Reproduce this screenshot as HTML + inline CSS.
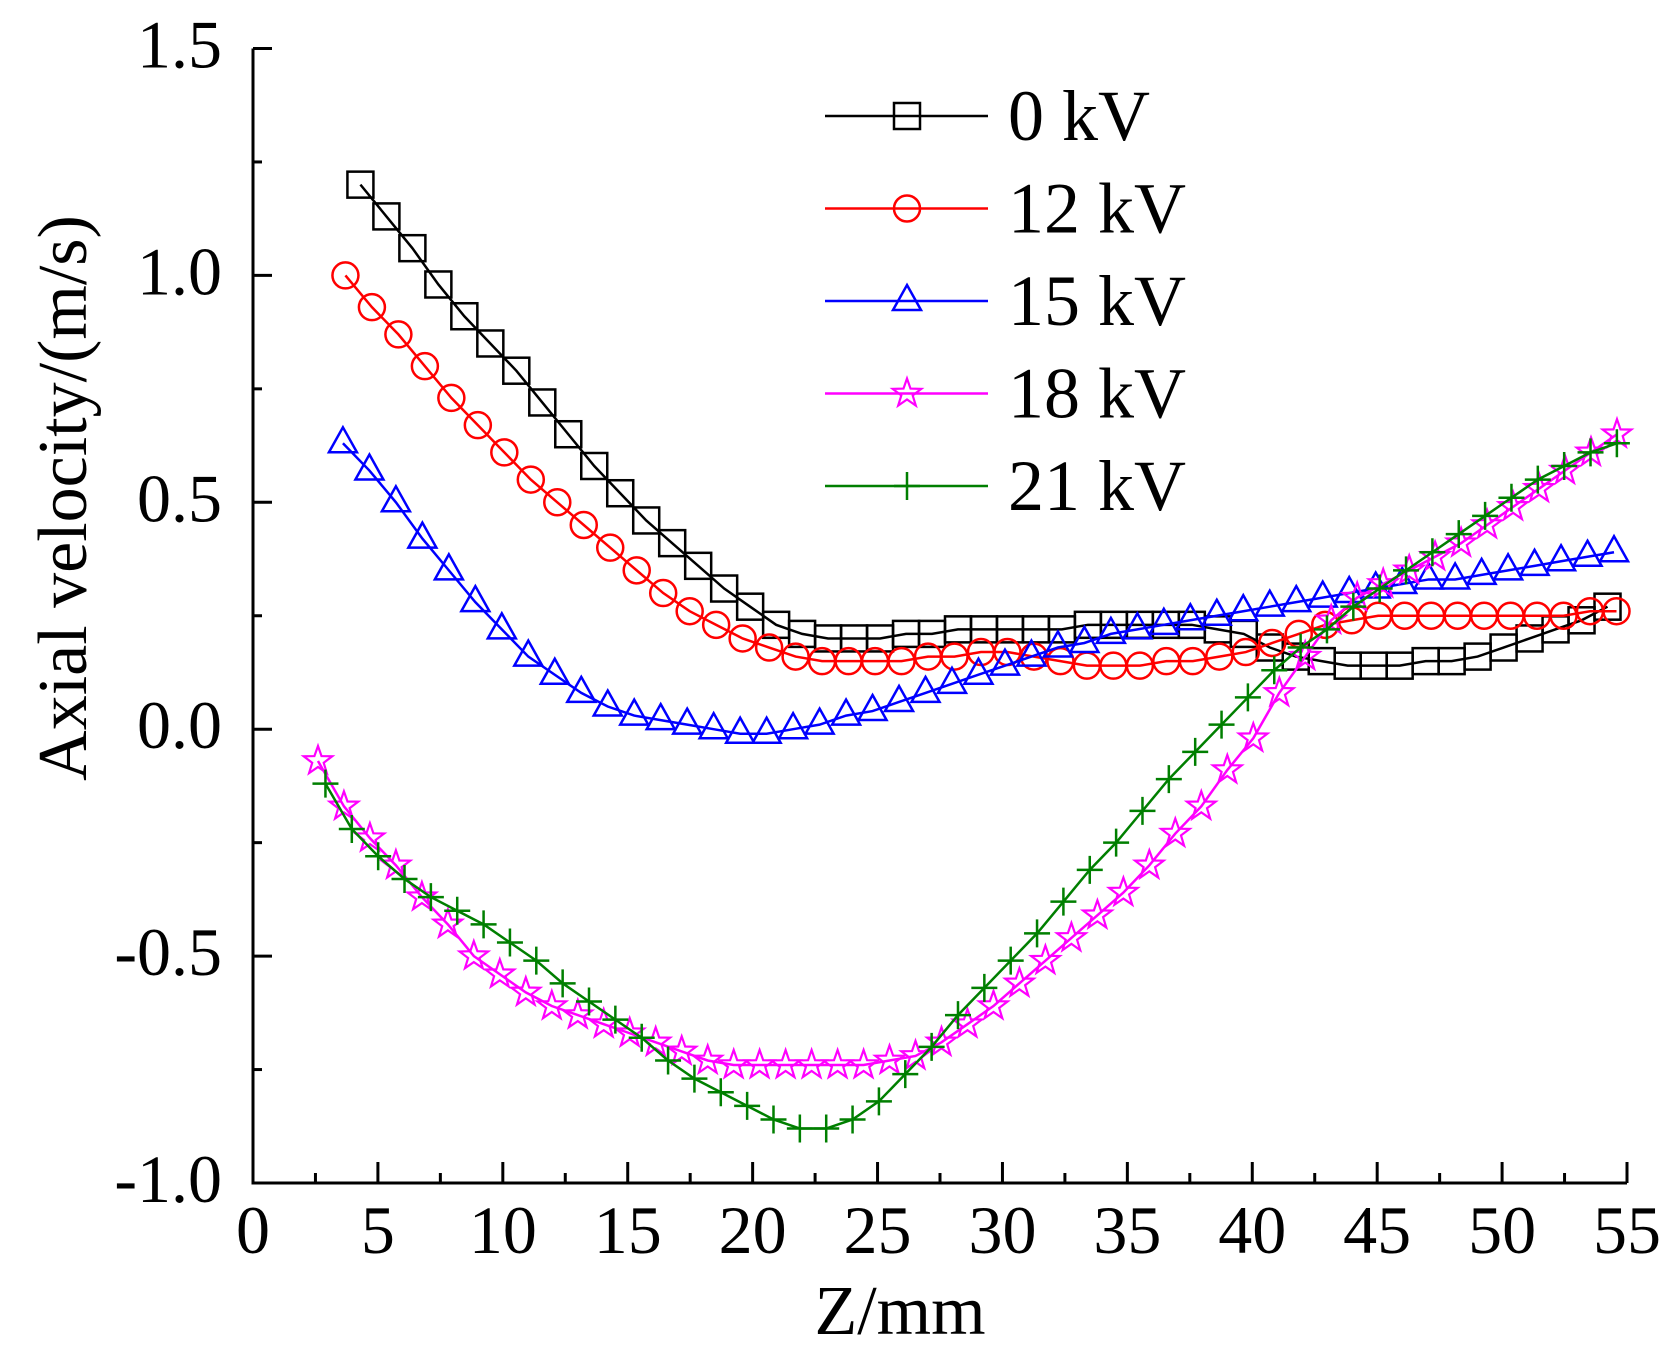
<!DOCTYPE html>
<html><head><meta charset="utf-8"><style>
body{margin:0;background:#fff}
svg{display:block}
text{font-family:"Liberation Serif",serif;fill:#000}
</style></head><body>
<svg id="chart" width="1672" height="1348" viewBox="0 0 1672 1348"></svg>
<script>
const xTicks=[0,5,10,15,20,25,30,35,40,45,50,55];
const yTicks=[1.5,1.0,0.5,0.0,-0.5,-1.0];
const yTickLabels=["1.5","1.0","0.5","0.0","-0.5","-1.0"];
const seriesNames=["0 kV","12 kV","15 kV","18 kV","21 kV"];
const s0Start=4.3, s0Step=1.04;
const s0=[1.20,1.13,1.06,0.98,0.91,0.85,0.79,0.72,0.65,0.58,0.52,0.46,0.41,0.36,0.31,0.27,0.23,0.21,0.20,0.20,0.20,0.21,0.21,0.22,0.22,0.22,0.22,0.22,0.23,0.23,0.23,0.23,0.23,0.22,0.21,0.18,0.16,0.15,0.14,0.14,0.14,0.15,0.15,0.16,0.18,0.20,0.22,0.24,0.27];
const s12Start=3.7, s12Step=1.06;
const s12=[1.00,0.93,0.87,0.80,0.73,0.67,0.61,0.55,0.50,0.45,0.40,0.35,0.30,0.26,0.23,0.20,0.18,0.16,0.15,0.15,0.15,0.15,0.16,0.16,0.17,0.17,0.16,0.15,0.14,0.14,0.14,0.15,0.15,0.16,0.17,0.19,0.21,0.23,0.24,0.25,0.25,0.25,0.25,0.25,0.25,0.25,0.25,0.26,0.26];
const s15Start=3.6, s15Step=1.06;
const s15=[0.63,0.57,0.50,0.42,0.35,0.28,0.22,0.16,0.12,0.08,0.05,0.03,0.02,0.01,0.00,-0.01,-0.01,0.00,0.01,0.03,0.04,0.06,0.08,0.10,0.12,0.14,0.16,0.18,0.19,0.21,0.22,0.23,0.24,0.25,0.26,0.27,0.28,0.29,0.30,0.31,0.32,0.33,0.33,0.34,0.35,0.36,0.37,0.38,0.39];
const s18Start=2.6, s18Step=1.04;
const s18=[-0.07,-0.17,-0.24,-0.30,-0.37,-0.43,-0.50,-0.54,-0.58,-0.61,-0.63,-0.65,-0.67,-0.69,-0.71,-0.73,-0.74,-0.74,-0.74,-0.74,-0.74,-0.74,-0.73,-0.72,-0.69,-0.65,-0.61,-0.56,-0.51,-0.46,-0.41,-0.36,-0.30,-0.23,-0.17,-0.09,-0.02,0.08,0.16,0.24,0.29,0.32,0.35,0.38,0.41,0.45,0.49,0.53,0.57,0.61,0.65];
const s21Start=2.9, s21Step=1.055;
const s21=[-0.12,-0.22,-0.28,-0.33,-0.37,-0.40,-0.43,-0.47,-0.51,-0.56,-0.60,-0.64,-0.68,-0.73,-0.77,-0.80,-0.83,-0.86,-0.88,-0.88,-0.86,-0.82,-0.76,-0.70,-0.63,-0.57,-0.51,-0.45,-0.38,-0.31,-0.25,-0.18,-0.11,-0.05,0.01,0.07,0.13,0.18,0.22,0.27,0.31,0.35,0.39,0.43,0.47,0.51,0.55,0.58,0.61,0.63];

const NS="http://www.w3.org/2000/svg";
const svg=document.getElementById('chart');
const X0=253,X1=1627,Y0=48.5,Y1=1183;
const xs=v=>X0+(v-0)/55*(X1-X0);
const ys=v=>Y0+(1.5-v)/2.5*(Y1-Y0);
function mk(tag,attrs,parent){const e=document.createElementNS(NS,tag);for(const k in attrs)e.setAttribute(k,attrs[k]);(parent||svg).appendChild(e);return e;}

// axes
const ax=mk('path',{d:`M${X0},${Y0} L${X0},${Y1} L${X1},${Y1}`,fill:'none',stroke:'#000','stroke-width':3});


for(let i=0;i<xTicks.length;i++){
  const x=xs(xTicks[i]);
  const t=mk('line',{x1:x,x2:x,y1:Y1,y2:Y1-21,stroke:'#000','stroke-width':3});
  
  
  if(i<xTicks.length-1){const xm=xs(xTicks[i]+2.5);const m=mk('line',{x1:xm,x2:xm,y1:Y1,y2:Y1-10,stroke:'#000','stroke-width':3});
  
  }
  const l=mk('text',{x:x,y:1253,'font-size':68,'text-anchor':'middle'});l.textContent=String(xTicks[i]);
  
  
}
for(let i=0;i<yTicks.length;i++){
  const y=ys(yTicks[i]);
  const t=mk('line',{x1:X0,x2:X0+19,y1:y,y2:y,stroke:'#000','stroke-width':3});
  
  
  if(i<yTicks.length-1){const ym=ys(yTicks[i]-0.25);const m=mk('line',{x1:X0,x2:X0+9,y1:ym,y2:ym,stroke:'#000','stroke-width':3});
  
  }
  const l=mk('text',{x:222,y:y+19,'font-size':68,'text-anchor':'end'});l.textContent=yTickLabels[i];
  
  
}
const yl=mk('text',{x:0,y:0,'font-size':70,'text-anchor':'middle',transform:'translate(86,498) rotate(-90)'});yl.textContent='Axial velocity/(m/s)';


const xl=mk('text',{x:900,y:1334,'font-size':70,'text-anchor':'middle'});xl.textContent='Z/mm';



function marker(type,x,y,color,g){
  let e;
  if(type==='square')e=mk('rect',{x:x-13,y:y-13,width:26,height:26,fill:'none',stroke:color,'stroke-width':2.5},g);
  else if(type==='circle')e=mk('circle',{cx:x,cy:y,r:13,fill:'none',stroke:color,'stroke-width':2.5},g);
  else if(type==='triangle')e=mk('path',{d:`M${x},${y-16} L${x+14},${y+9} L${x-14},${y+9} Z`,fill:'none',stroke:color,'stroke-width':2.5},g);
  else if(type==='star'){let d='';for(let k=0;k<10;k++){const r=k%2?6:15;const a=-Math.PI/2+k*Math.PI/5;d+=(k?'L':'M')+(x+r*Math.cos(a)).toFixed(1)+','+(y+r*Math.sin(a)).toFixed(1);}e=mk('path',{d:d+'Z',fill:'none',stroke:color,'stroke-width':2.2},g);}
  else {e=mk('path',{d:`M${x-13},${y} L${x+13},${y} M${x},${y-14} L${x},${y+14}`,fill:'none',stroke:color,'stroke-width':2.5},g);}
  
  
}
const defs=[[s0,s0Start,s0Step,'#000','square','series-0kv'],[s12,s12Start,s12Step,'#ff0000','circle','series-12kv'],[s15,s15Start,s15Step,'#0000ff','triangle','series-15kv'],[s18,s18Start,s18Step,'#ff00ff','star','series-18kv'],[s21,s21Start,s21Step,'#007f00','plus','series-21kv']];
defs.forEach(([vals,st,sp,c,m,name])=>{
  const g=mk('g',{});
  
  
  const pts=vals.map((v,i)=>[xs(st+i*sp),ys(v)]);
  const ln=mk('polyline',{points:pts.map(p=>p.join(',')).join(' '),fill:'none',stroke:c,'stroke-width':2.5},g);
  
  
  pts.forEach(p=>marker(m,p[0],p[1],c,g));
});
// legend
const lg=mk('g',{});


defs.forEach((d,i)=>{
  const y=116+i*92.5;
  const g=mk('g',{},lg);
  
  
  mk('line',{x1:825,x2:988,y1:y,y2:y,stroke:d[3],'stroke-width':2.5},g);
  marker(d[4],907,y,d[3],g);
  const t=mk('text',{x:1008,y:y+24,'font-size':72},g);t.textContent=seriesNames[i];
  
  
});
</script>
</body></html>
